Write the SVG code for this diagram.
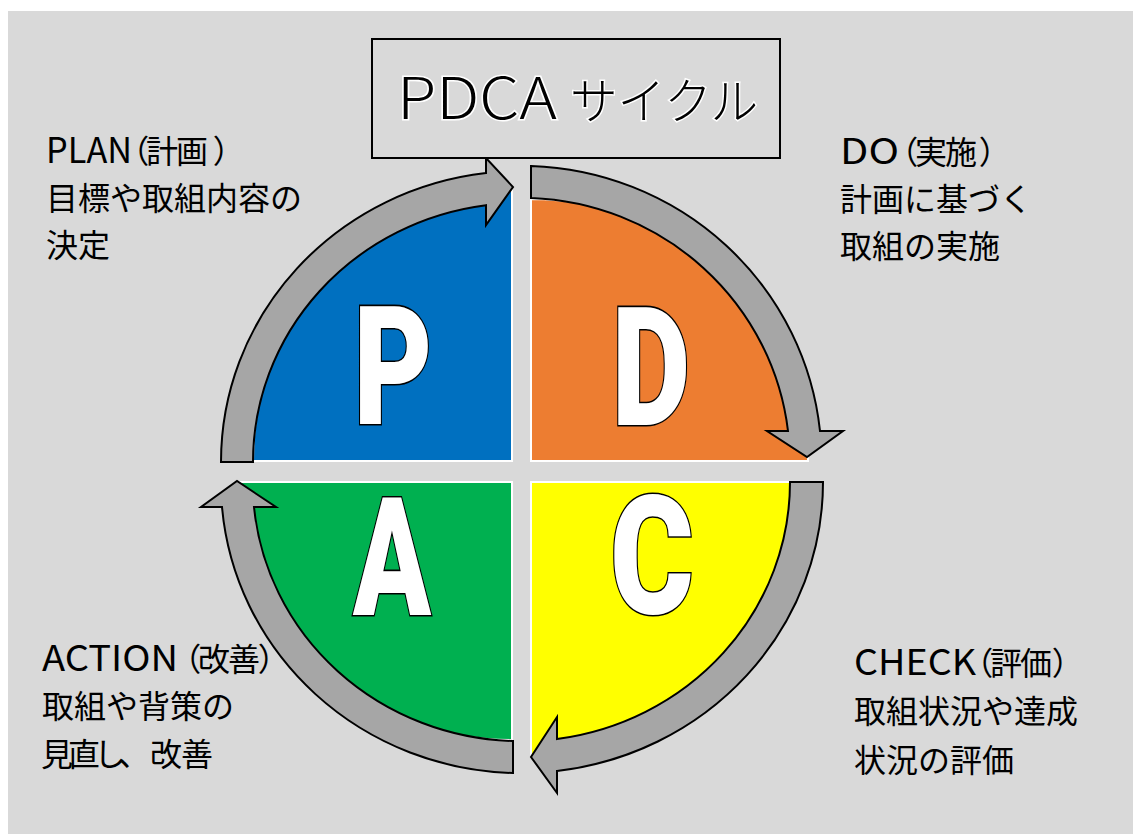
<svg xmlns="http://www.w3.org/2000/svg" width="1133" height="834" viewBox="0 0 1133 834">
<style>
.bg{fill:#d9d9d9}
.quad{stroke:#ffffff;stroke-width:2}
.arrow{fill:#a6a6a6;stroke:#000;stroke-width:2;stroke-linejoin:miter}
.big{font-family:Roboto,"Liberation Sans",sans-serif;font-weight:900;font-size:166px;fill:#fff;stroke:#000;stroke-width:3;paint-order:stroke;text-anchor:middle}
.lbl{font-family:"Noto Sans CJK JP","Noto Sans",sans-serif;font-size:32px;fill:#000}
.lat{font-size:36px}
.p{font-feature-settings:"palt";letter-spacing:-2px}
.title{font-family:"Noto Sans CJK JP","Noto Sans",sans-serif;font-weight:300;fill:#000;stroke:#fff;stroke-width:3;paint-order:stroke}
</style>
<rect width="1133" height="834" fill="#ffffff"/>
<rect class="bg" x="8" y="11" width="1125" height="823"/>

<g id="node-P">
<path class="quad" fill="#0070c0" d="M512,461 L253,461 A259,273 0 0 1 512,188 Z"/>
<text class="big" transform="translate(393,424) scale(0.73,1)">P</text>
</g>
<g id="node-D">
<path class="quad" fill="#ed7d31" d="M531,461 L531,199 A277,262 0 0 1 808,461 Z"/>
<text class="big" transform="translate(651,425) scale(0.73,1)">D</text>
</g>
<g id="node-C">
<path class="quad" fill="#ffff00" d="M531,482 L806,482 A275,274 0 0 1 531,756 Z"/>
<text class="big" transform="translate(652,613) scale(0.77,1)">C</text>
</g>
<g id="node-A">
<path class="quad" fill="#00b050" d="M512,482 L512,740 A274,258 0 0 1 238,482 Z"/>
<text class="big" transform="translate(392,615) scale(0.69,1)">A</text>
</g>

<g id="connectors">
<path class="arrow" d="M221,462 A300,291 0 0 1 486,173 L486,158 L513,187 L486,225 L486,205.2 A268,259 0 0 0 253,462 Z"/>
<path class="arrow" d="M531,166 A300.7,296 0 0 1 820,431 L843,431 L807,457 L767,431 L788,431 A269,264 0 0 0 531,198 Z"/>
<path class="arrow" d="M823,482 A302,291 0 0 1 557,771 L557,793 L531,757 L557,717 L557,739 A269,259.3 0 0 0 790,482 Z"/>
<path class="arrow" d="M513,773 A300,291 0 0 1 222,507 L201,507 L237,481 L276,507 L254,507 A268.3,259 0 0 0 513,741 Z"/>
</g>

<g id="title">
<rect x="372" y="39" width="408" height="119" fill="#d9d9d9" stroke="#000" stroke-width="2"/>
<text class="title" y="119"><tspan x="397" font-size="57" textLength="160" lengthAdjust="spacingAndGlyphs">PDCA</tspan><tspan x="570" font-size="49" textLength="188" lengthAdjust="spacingAndGlyphs">サイクル</tspan></text>
</g>

<g id="label-plan" class="lbl">
<text y="163"><tspan class="lat" x="46" textLength="86" lengthAdjust="spacingAndGlyphs">PLAN</tspan><tspan class="p" x="132">（計画</tspan><tspan class="p" x="214">）</tspan></text>
<text x="46" y="210">目標や取組内容の</text>
<text x="46" y="257">決定</text>
</g>
<g id="label-do" class="lbl">
<text y="164"><tspan class="lat" x="840" textLength="59" lengthAdjust="spacingAndGlyphs">DO</tspan><tspan class="p" x="901">（実施</tspan><tspan class="p" x="980">）</tspan></text>
<text x="840" y="211">計画に基づく</text>
<text x="840" y="258">取組の実施</text>
</g>
<g id="label-action" class="lbl">
<text y="671"><tspan class="lat" x="42" textLength="136" lengthAdjust="spacingAndGlyphs">ACTION</tspan><tspan class="p" x="184">（改善</tspan><tspan class="p" x="259">）</tspan></text>
<text x="42" y="718">取組や背策の</text>
<text y="766" x="41 68 94 118 150 181">見直し、改善</text>
</g>
<g id="label-check" class="lbl">
<text y="675"><tspan class="lat" x="854" textLength="122" lengthAdjust="spacingAndGlyphs">CHECK</tspan><tspan class="p" x="976">（評価</tspan><tspan class="p" x="1053">）</tspan></text>
<text x="854" y="723">取組状況や達成</text>
<text x="854" y="772">状況の評価</text>
</g>
</svg>
